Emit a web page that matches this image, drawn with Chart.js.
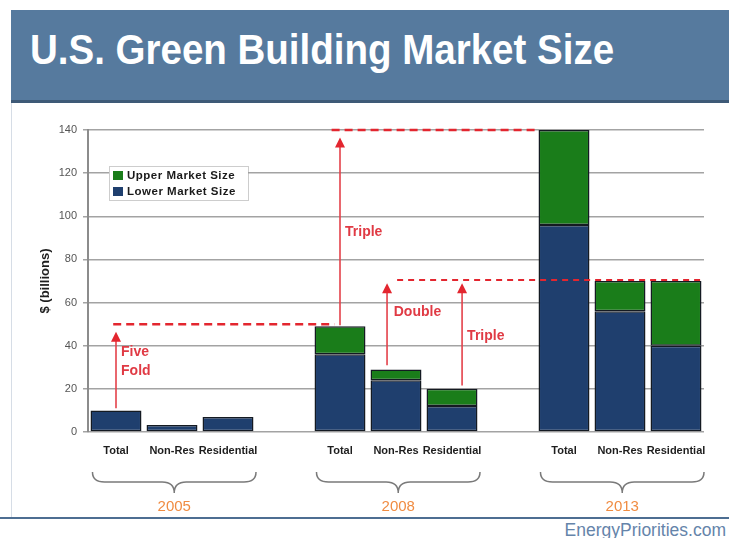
<!DOCTYPE html>
<html>
<head>
<meta charset="utf-8">
<script src="https://cdn.jsdelivr.net/npm/chart.js@4"></script>
<style>
  html, body { margin: 0; padding: 0; background: #ffffff; }
  #page { position: relative; width: 729px; height: 538px; overflow: hidden; background: #fff; font-family: "Liberation Sans", Arial, sans-serif; }
  #band { position: absolute; left: 11px; top: 10px; width: 718px; height: 90px; background: #567a9e; border-bottom: 3px solid #3e5a77; }
  #title { position: absolute; left: 19px; top: 19px; margin: 0; font-size: 38.5px; line-height: 38px; font-weight: bold; color: #ffffff; white-space: nowrap; transform: scaleY(1.08); transform-origin: left top; }
  #leftrule { position: absolute; left: 11px; top: 103px; width: 1px; height: 414px; background: #d6dde6; }
  #bottomrule { position: absolute; left: 0; top: 517px; width: 729px; height: 2px; background: #4d6e92; }
  #source { position: absolute; right: 3px; top: 520px; font-size: 17.5px; line-height: 20px; color: #6584aa; white-space: nowrap; }
  #chartwrap { position: absolute; left: 0; top: 0; width: 729px; height: 538px; }
</style>
</head>
<body>
<div id="page">
  <div id="band"><h1 id="title">U.S. Green Building Market Size</h1></div>
  <div id="leftrule"></div>
  <div id="bottomrule"></div>
  <div id="source">EnergyPriorities.com</div>
  <div id="chartwrap"><canvas id="c" width="729" height="538"></canvas></div>
</div>
<script>
// ---- data ----
const categories = ['Total', 'Non-Res', 'Residential', '', 'Total', 'Non-Res', 'Residential', '', 'Total', 'Non-Res', 'Residential'];
const lowerMarketSize = [10, 3.3, 7, null, 36, 24, 12, null, 96, 56, 40];
const upperMarketSize = [10, 3.3, 7, null, 49, 29, 20, null, 140, 70, 70];
const yearLabels = ['2005', '2008', '2013'];
const yearGroupStart = [0, 4, 8];
const yTicks = [0, 20, 40, 60, 80, 100, 120, 140];

// annotations in data coordinates (x = category index, fractional allowed)
const dashLevels = [50, 140, 70.5];
const dashFrom = [-0.05, 3.85, 5.02];
const dashTo = [3.9, 7.52, 10.43];
const arrowX = [0, 4, 4.84, 6.18];
const arrowFrom = [11, 49.5, 31, 21.5];
const arrowTo = [46.5, 136.5, 69, 69];
const noteTexts = ['Five', 'Fold', 'Triple', 'Double', 'Triple'];
const noteX = [0.09, 0.09, 4.09, 4.96, 6.27];
const noteY = [37.1, 28.3, 92.7, 55.6, 44.5];

// stacked increment (upper minus lower) built from the two series
const upperIncrement = upperMarketSize.map((u, i) => {
  const l = lowerMarketSize[i];
  if (u === null || l === null) return null;
  const d = u - l;
  return d > 0 ? d : null;
});

const BLUE = '#1f3f6e';
const GREEN = '#1a7d1a';
const RED = '#e3262f';

const annotationPlugin = {
  id: 'annotations',
  afterDatasetsDraw(chart) {
    const ctx = chart.ctx;
    const xs = chart.scales.x, ys = chart.scales.y;
    const area = chart.chartArea;
    ctx.save();
    // dashed reference lines
    dashLevels.forEach((v, i) => {
      ctx.beginPath();
      ctx.strokeStyle = RED;
      ctx.lineWidth = i === 2 ? 2 : 2.5;
      ctx.setLineDash(i === 2 ? [6, 5] : [8, 5]);
      const y = ys.getPixelForValue(v);
      ctx.moveTo(xs.getPixelForValue(dashFrom[i]), y);
      ctx.lineTo(xs.getPixelForValue(dashTo[i]), y);
      ctx.stroke();
    });
    ctx.setLineDash([]);
    // arrows
    arrowX.forEach((xv, i) => {
      const x = xs.getPixelForValue(xv);
      const y0 = ys.getPixelForValue(arrowFrom[i]);
      const y1 = ys.getPixelForValue(arrowTo[i]);
      const head = 10, hw = 5;
      ctx.beginPath();
      ctx.strokeStyle = '#e4414a';
      ctx.lineWidth = 1.6;
      ctx.moveTo(x, y0);
      ctx.lineTo(x, y1 + head - 1);
      ctx.stroke();
      ctx.beginPath();
      ctx.fillStyle = RED;
      ctx.moveTo(x, y1);
      ctx.lineTo(x - hw, y1 + head);
      ctx.lineTo(x + hw, y1 + head);
      ctx.closePath();
      ctx.fill();
    });
    // notes
    ctx.font = 'bold 14px "Liberation Sans", Arial, sans-serif';
    ctx.fillStyle = '#e03a44';
    ctx.textAlign = 'left';
    ctx.textBaseline = 'middle';
    noteTexts.forEach((t, i) => {
      ctx.fillText(t, xs.getPixelForValue(noteX[i]), ys.getPixelForValue(noteY[i]));
    });

    // legend box inside plot
    const lx = area.left + 21, ly = area.top + 36, lw = 139, lh = 34;
    ctx.fillStyle = '#ffffff';
    ctx.fillRect(lx, ly, lw, lh);
    ctx.strokeStyle = '#9a9a9a';
    ctx.lineWidth = 1;
    ctx.setLineDash([1, 1]);
    ctx.strokeRect(lx + 0.5, ly + 0.5, lw, lh);
    ctx.setLineDash([]);
    const legendOrder = [1, 0];
    ctx.font = 'bold 11.5px "Liberation Sans", Arial, sans-serif';
    if ('letterSpacing' in ctx) ctx.letterSpacing = '0.5px';
    ctx.textBaseline = 'middle';
    legendOrder.forEach((di, k) => {
      const ds = chart.data.datasets[di];
      const sy = ly + 5 + k * 16;
      ctx.fillStyle = ds.backgroundColor;
      ctx.fillRect(lx + 4, sy, 10, 9);
      ctx.fillStyle = '#1a1a1a';
      ctx.fillText(ds.label, lx + 18, sy + 5);
    });
    if ('letterSpacing' in ctx) ctx.letterSpacing = '0px';

    // braces and year labels
    yearGroupStart.forEach((g, i) => {
      const x1 = xs.getPixelForValue(g - 0.42);
      const x2 = xs.getPixelForValue(g + 2.5);
      const xc = (x1 + x2) / 2;
      const yTop = area.bottom + 40, yMid = area.bottom + 50, yTip = area.bottom + 61, r = 12;
      ctx.beginPath();
      ctx.strokeStyle = '#7a7a7a';
      ctx.lineWidth = 1.5;
      ctx.moveTo(x1, yTop);
      ctx.quadraticCurveTo(x1, yMid, x1 + r, yMid);
      ctx.lineTo(xc - r, yMid);
      ctx.quadraticCurveTo(xc, yMid, xc, yTip);
      ctx.quadraticCurveTo(xc, yMid, xc + r, yMid);
      ctx.lineTo(x2 - r, yMid);
      ctx.quadraticCurveTo(x2, yMid, x2, yTop);
      ctx.stroke();
      ctx.font = '15px "Liberation Sans", Arial, sans-serif';
      ctx.fillStyle = '#f08c42';
      ctx.textAlign = 'center';
      ctx.textBaseline = 'middle';
      ctx.fillText(yearLabels[i], xc, area.bottom + 75);
    });
    ctx.restore();
  }
};

new Chart(document.getElementById('c'), {
  type: 'bar',
  data: {
    labels: categories,
    datasets: [
      { label: 'Lower Market Size', data: lowerMarketSize, backgroundColor: BLUE, borderColor: '#141a22', borderWidth: 1.5, borderSkipped: false, stack: 's' },
      { label: 'Upper Market Size', data: upperIncrement, backgroundColor: GREEN, borderColor: '#141a22', borderWidth: 1.5, borderSkipped: false, stack: 's' }
    ]
  },
  options: {
    responsive: false,
    animation: false,
    events: [],
    layout: { padding: { left: 36, right: 25, top: 130, bottom: 0 } },
    datasets: { bar: { categoryPercentage: 1.0, barPercentage: 0.91 } },
    plugins: { legend: { display: false }, tooltip: { enabled: false } },
    scales: {
      x: {
        stacked: true,
        grid: { display: false },
        border: { display: false },
        ticks: { autoSkip: false, maxRotation: 0, padding: 4, color: '#1e1e1e', font: { family: '"Liberation Sans", Arial, sans-serif', size: 11, weight: 'bold' } },
        afterFit(scale) { scale.height = 106; }
      },
      y: {
        stacked: true,
        min: 0, max: 140,
        afterBuildTicks(scale) { scale.ticks = yTicks.map(v => ({ value: v })); },
        grid: { color: '#a3a3a3', lineWidth: 1.5, tickLength: 5 },
        border: { color: '#8c8c8c', width: 2 },
        ticks: { padding: 6, color: '#555555', font: { family: '"Liberation Sans", Arial, sans-serif', size: 11 } },
        title: { display: true, text: '$ (billions)', color: '#1e1e1e', padding: { top: 2, bottom: 0 }, font: { family: '"Liberation Sans", Arial, sans-serif', size: 13, weight: 'bold' } },
        afterFit(scale) { scale.width = 52; }
      }
    }
  },
  plugins: [annotationPlugin]
});
</script>
</body>
</html>
